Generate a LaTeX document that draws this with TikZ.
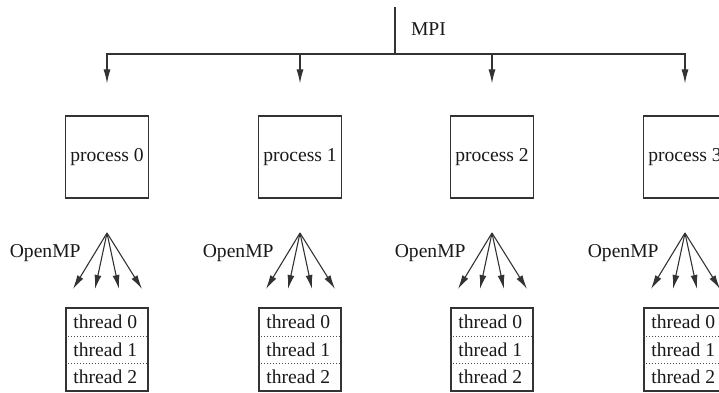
\documentclass[tikz,border=0pt]{standalone}
\usepackage{fontspec}
\setmainfont{Liberation Serif}
\usetikzlibrary{arrows.meta,positioning}

\tikzset{
  proc/.style={draw=black!80,line width=0.6pt,minimum width=41.5pt,minimum height=41pt,inner sep=0pt},
  thrbox/.style={draw=black!80,line width=0.6pt,minimum width=41pt,minimum height=41.5pt,inner sep=0pt},
  thr/.style={anchor=west,inner sep=0pt},
  link/.style={-{Latex[length=7pt,width=3.5pt]},draw=black!80,line width=0.55pt},
  sep/.style={draw=black!70,line width=0.4pt,dash pattern=on 0.5pt off 1pt},
}

\begin{document}
\begin{tikzpicture}[x=0.5pt,y=-0.5pt,font=\fontsize{9.8}{11}\selectfont,text=black!90]
        \useasboundingbox (0,0) rectangle (719,392);
        \clip (0,0) rectangle (719,392);
        % MPI trunk and bus
        \coordinate (top) at (395,7);
        \coordinate (bus) at (395,54);
        \draw[draw=black!80,line width=0.55pt] (top) -- (bus);
        \node[anchor=west] (mpi) at (404,29) {MPI};
        \foreach \i/\x in {0/107,1/300,2/492,3/685} {
            % one process per column
            \node[proc] (p\i) at (\x,157) {process \i};
            \draw[link,shorten >=16pt] (bus) -| (p\i.north);
            % OpenMP fork into threads
            \coordinate (fork\i) at (\x,233);
            \node[anchor=east,inner sep=0pt] (omp\i) at (\x-26,253) {OpenMP};
            \foreach \j/\dx in {0/-34,1/-12,2/12,3/35}
                \coordinate (leaf\i-\j) at (\x+\dx,289);
            \foreach \j in {0,...,3}
                \draw[link] (fork\i) -- (leaf\i-\j);
            % thread table
            \node[thrbox] (t\i) at (\x,349.5) {};
            \node[thr] (t\i-0) at (\x-34,322) {thread 0};
            \node[thr] (t\i-1) at (\x-34,349.5) {thread 1};
            \node[thr] (t\i-2) at (\x-34,377) {thread 2};
            \draw[sep] (t\i.west |- 0,336) -- (t\i.east |- 0,336);
            \draw[sep] (t\i.west |- 0,363) -- (t\i.east |- 0,363);
        }
    \end{tikzpicture}
\end{document}
